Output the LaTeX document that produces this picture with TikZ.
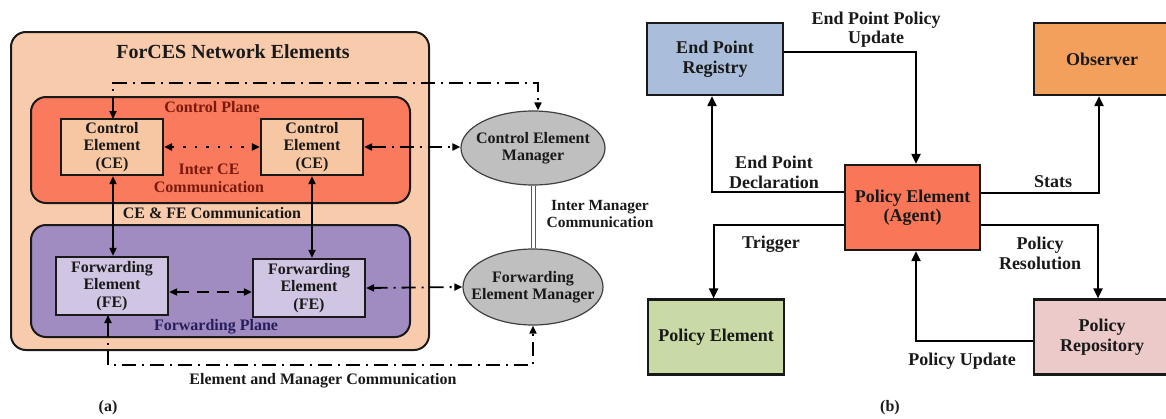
\documentclass[tikz,border=0pt]{standalone}
\usepackage{fontspec}
\setmainfont{Liberation Serif}
\usetikzlibrary{arrows.meta,shapes.geometric}
\definecolor{peach}{HTML}{F8CBAD}
\definecolor{cpfill}{HTML}{F97A5C}
\definecolor{cefill}{HTML}{F7C6A2}
\definecolor{fpfill}{HTML}{A08CC1}
\definecolor{fefill}{HTML}{D0C6E3}
\definecolor{mgrgray}{HTML}{BFBFBF}
\definecolor{cptext}{HTML}{7A1A0C}
\definecolor{fptext}{HTML}{261E5C}
\definecolor{eprfill}{HTML}{AABEDB}
\definecolor{obsfill}{HTML}{F3A05C}
\definecolor{pefill}{HTML}{FA7658}
\definecolor{gpefill}{HTML}{CADAA6}
\definecolor{prfill}{HTML}{EBCAC9}
\newcommand\afnt{\fontsize{16}{17.5}\selectfont\bfseries}
\newcommand\bfnt{\fontsize{18}{19.5}\selectfont\bfseries}
\begin{document}
\begin{tikzpicture}[x=1pt,y=-1pt,
  container/.style={draw=black!90, line width=2pt, rounded corners=15pt, inner sep=0pt},
  abox/.style={draw=black!90, line width=2.2pt, inner sep=0pt, align=center, font=\afnt, text=black!90},
  mgr/.style={ellipse, draw=black!75, line width=1.2pt, fill=mgrgray, inner sep=0pt},
  bbox/.style={draw=black!90, line width=2.2pt, inner sep=0pt, align=center, font=\bfnt, text=black!90},
  alab/.style={align=center, font=\afnt, text=black!90, inner sep=0pt},
  blab/.style={align=center, font=\bfnt, text=black!90, inner sep=0pt},
  atip/.style={{Triangle[length=8pt,width=7pt]}-{Triangle[length=8pt,width=7pt]}},
  sarr/.style={line width=1.8pt, atip},
  dashdotline/.style={line width=1.8pt, dash pattern=on 14pt off 6pt on 2pt off 6pt, atip},
  barr/.style={line width=2pt, -{Triangle[length=10pt,width=9pt]}}
]
\useasboundingbox (0,0) rectangle (1166,418);
\clip (0,0) rectangle (1166,418);

% ---------------- (a) ----------------
\node[container, fill=peach, minimum width=418pt, minimum height=318pt] (outer) at (220,191) {};
\node[container, fill=cpfill, minimum width=379pt, minimum height=106pt] (cp) at (220.5,150) {};
\node[container, fill=fpfill, minimum width=379pt, minimum height=112pt] (fp) at (220.5,281) {};

\node[alab, font=\fontsize{20}{22}\selectfont\bfseries] (title) at (233,52) {ForCES Network Elements};
\node[alab, text=cptext] (cplab) at (212,107) {Control Plane};
\node[alab, text=cptext] (interce) at (209,178.5) {Inter CE\\Communication};
\node[alab] (cefe) at (212,213) {CE \& FE Communication};
\node[alab, text=fptext] (fplab) at (216,327) {Forwarding Plane};

\node[mgr, minimum width=144pt, minimum height=74pt,
  label={[alab]center:Control Element\\Manager}] (cem) at (533,148) {};
\node[mgr, minimum width=140pt, minimum height=76pt,
  label={[alab]center:Forwarding\\Element Manager}] (fem) at (533,287) {};

% connectors (a)
\coordinate (topy) at (0,83);
\coordinate (boty) at (0,365);
\draw[dashdotline] (113,119) coordinate (ce1top) -- (ce1top |- topy) -| ([xshift=5pt]cem.north);
\draw[dashdotline] (108,315) coordinate (fe1bot) -- (fe1bot |- boty) -| (fem.south);
\draw[draw=gray!70!black, line width=1pt, double=white, double distance=3pt] (cem.south) -- (fem.north);

\node[abox, fill=cefill, minimum width=102pt, minimum height=56pt] (ce1) at (112,147) {Control\\Element\\(CE)};
\node[abox, fill=cefill, minimum width=102pt, minimum height=56pt] (ce2) at (312,147) {Control\\Element\\(CE)};
\node[abox, fill=fefill, minimum width=112pt, minimum height=58pt] (fe1) at (112,286) {Forwarding\\Element\\(FE)};
\node[abox, fill=fefill, minimum width=112pt, minimum height=58pt] (fe2) at (309,288) {Forwarding\\Element\\(FE)};

\draw[sarr] ([xshift=1pt]ce1.south) -- ([xshift=1pt]ce1.south |- fe1.north);
\draw[sarr] (ce2.south) -- (ce2.south |- fe2.north);
\draw[line width=2.4pt, dash pattern=on 2.4pt off 9.2pt, atip] (ce1.east) -- (ce2.west);
\draw[line width=1.8pt, dash pattern=on 12pt off 8pt, atip] ([yshift=-6pt]fe1.east) -- ([yshift=-6pt]fe1.east -| fe2.west);
\draw[dashdotline] (ce2.east) -- (ce2.east -| cem.west);
\draw[dashdotline] (fe2.east) -- (fem.west);

\node[alab, font=\fontsize{15.5}{17.5}\selectfont\bfseries] (imc) at (600,214) {Inter Manager\\Communication};
\node[alab] (emc) at (323,381) {Element and Manager Communication};
\node[alab] (la) at (108,408) {(a)};

% ---------------- (b) ----------------
\node[bbox, fill=eprfill, minimum width=136pt, minimum height=72pt] (epr) at (715,59) {End Point\\Registry};
\node[bbox, fill=obsfill, minimum width=136pt, minimum height=72pt] (obs) at (1102,59) {Observer};
\node[bbox, fill=pefill, minimum width=135pt, minimum height=85pt] (pe) at (912.5,207.5) {Policy Element\\(Agent)};
\node[bbox, fill=gpefill, minimum width=136pt, minimum height=75pt] (gpe) at (716,337) {Policy Element};
\node[bbox, fill=prfill, minimum width=136pt, minimum height=75pt] (pr) at (1102,337) {Policy\\Repository};

\draw[barr] ([yshift=7pt]epr.east) -| ([xshift=3.5pt]pe.north);
\draw[barr] ([yshift=15.5pt]pe.west) -| ([xshift=-3pt]epr.south);
\draw[barr] ([yshift=14.5pt]pe.east) -| ([xshift=-3pt]obs.south);
\draw[barr] ([yshift=-17.5pt]pe.west) -| ([xshift=-2.4pt]gpe.north);
\draw[barr] ([yshift=-17.5pt]pe.east) -| ([xshift=-4pt]pr.north);
\draw[barr] ([yshift=-4pt]pr.west) -| ([xshift=3.5pt]pe.south);

\node[blab] (lepu) at (876,29.5) {End Point Policy\\Update};
\node[blab] (lepd) at (774,172.5) {End Point\\Declaration};
\node[blab] (lstats) at (1053,182) {Stats};
\node[blab] (ltrig) at (771,244) {Trigger};
\node[blab] (lres) at (1040,253.5) {Policy\\Resolution};
\node[blab] (lpu) at (962,361) {Policy Update};
\node[alab] (lb) at (890,408) {(b)};
\end{tikzpicture}
\end{document}
